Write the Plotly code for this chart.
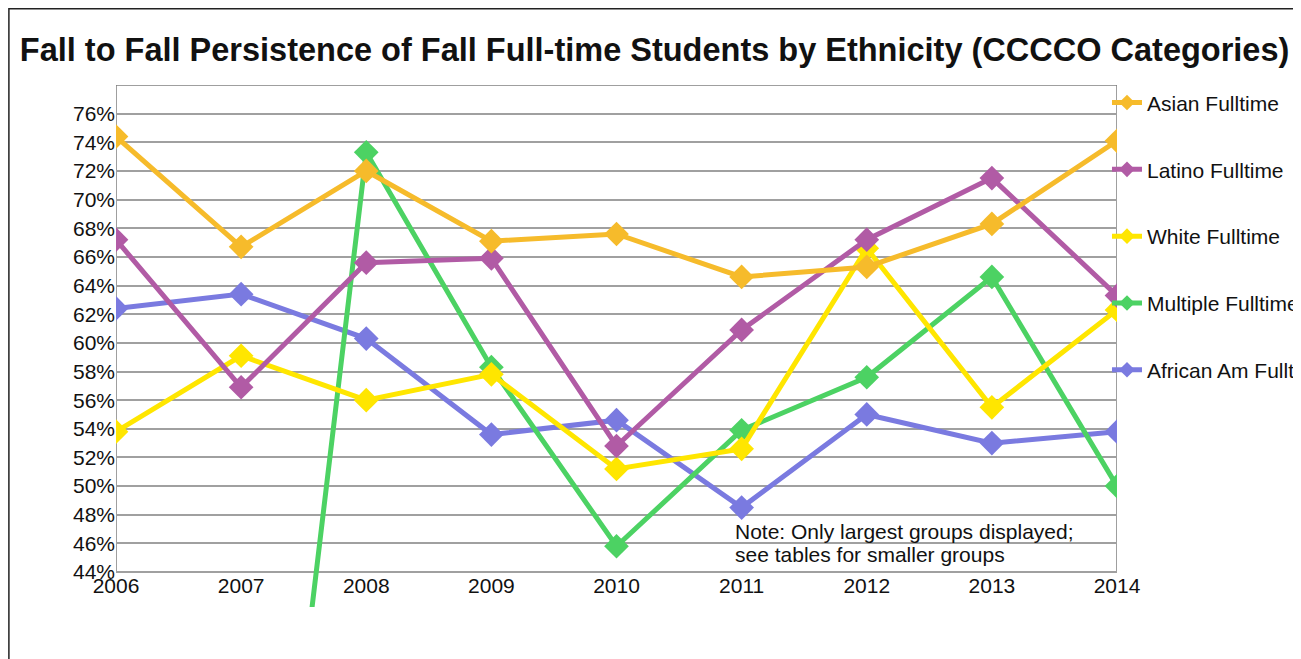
import plotly.graph_objects as go

years = [2006, 2007, 2008, 2009, 2010, 2011, 2012, 2013, 2014]

asian = [74.4, 66.7, 72.0, 67.1, 67.6, 64.6, 65.3, 68.3, 74.1]
latino = [67.2, 56.9, 65.6, 65.9, 52.8, 60.9, 67.2, 71.5, 63.3]
white = [53.8, 59.1, 56.0, 57.8, 51.2, 52.6, 66.6, 55.5, 62.3]
multiple = [0.0, 0.0, 73.3, 58.3, 45.8, 53.9, 57.6, 64.6, 50.0]
african = [62.4, 63.4, 60.3, 53.6, 54.6, 48.5, 55.0, 53.0, 53.8]

series_names = ["Asian Fulltime", "Latino Fulltime", "White Fulltime",
                "Multiple Fulltime", "African Am Fulltime"]
series_values = [asian, latino, white, multiple, african]
colors = ["#F6BB2B", "#B15BA5", "#FFE600", "#4CD263", "#7A7AE0"]

y_ticks = list(range(44, 77, 2))
y_min, y_max = 41.56, 78

font = "Liberation Sans, Arial, sans-serif"

fig = go.Figure()

# draw last series first so Asian sits on top; legendrank keeps the original order
items = list(enumerate(zip(series_names, series_values, colors)))
for rank, (name, vals, col) in reversed(items):
    fig.add_trace(go.Scatter(
        x=years, y=vals, name=name, mode="lines+markers",
        line=dict(color=col, width=5),
        marker=dict(symbol="diamond", size=19, color=col),
        legendgroup=name, legendrank=rank + 1,
    ))

# plot frame
fig.add_shape(type="rect", xref="x", yref="y", x0=2006, x1=2014, y0=44, y1=y_max,
              line=dict(color="#808080", width=1.5), layer="below")
# outer border of the picture
fig.add_shape(type="rect", xref="paper", yref="paper", x0=-0.107, x1=1.25,
              y0=-0.2, y1=1.146, line=dict(color="#222", width=1.5))

fig.add_annotation(text="Note: Only largest groups displayed;", xref="paper", yref="y",
                   x=0.616, y=46.8, xanchor="left", yanchor="middle", showarrow=False,
                   font=dict(size=21, color="#111", family=font))
fig.add_annotation(text="see tables for smaller groups", xref="paper", yref="y",
                   x=0.616, y=45.2, xanchor="left", yanchor="middle", showarrow=False,
                   font=dict(size=21, color="#111", family=font))

fig.update_xaxes(
    range=[2006, 2014], tickvals=years, showgrid=False, zeroline=False, showline=False,
    anchor="free", position=(44.1 - y_min) / (y_max - y_min), ticks="",
    tickfont=dict(size=21, color="#111", family=font),
)
fig.update_yaxes(
    range=[y_min, y_max], tickvals=y_ticks, ticktext=[f"{v}%" for v in y_ticks],
    showgrid=True, gridcolor="#a0a0a0", gridwidth=1.5, zeroline=False, showline=False,
    ticks="", tickfont=dict(size=21, color="#111", family=font),
)

fig.update_layout(
    width=1301, height=659,
    margin=dict(l=108, r=192, t=77, b=60, autoexpand=False),
    paper_bgcolor="white", plot_bgcolor="white",
    title=dict(text="<b>Fall to Fall Persistence of Fall Full-time Students by Ethnicity (CCCCO Categories)</b>",
               x=0.497, xanchor="center", y=0.937, yanchor="middle",
               font=dict(size=32.5, color="#111", family=font)),
    legend=dict(x=0.99, xanchor="left", y=1.005, yanchor="top", traceorder="grouped",
                tracegroupgap=36.5, bgcolor="rgba(0,0,0,0)", itemsizing="constant",
                font=dict(size=21, color="#111", family=font)),
    showlegend=True,
)

fig.write_html("out.html")
